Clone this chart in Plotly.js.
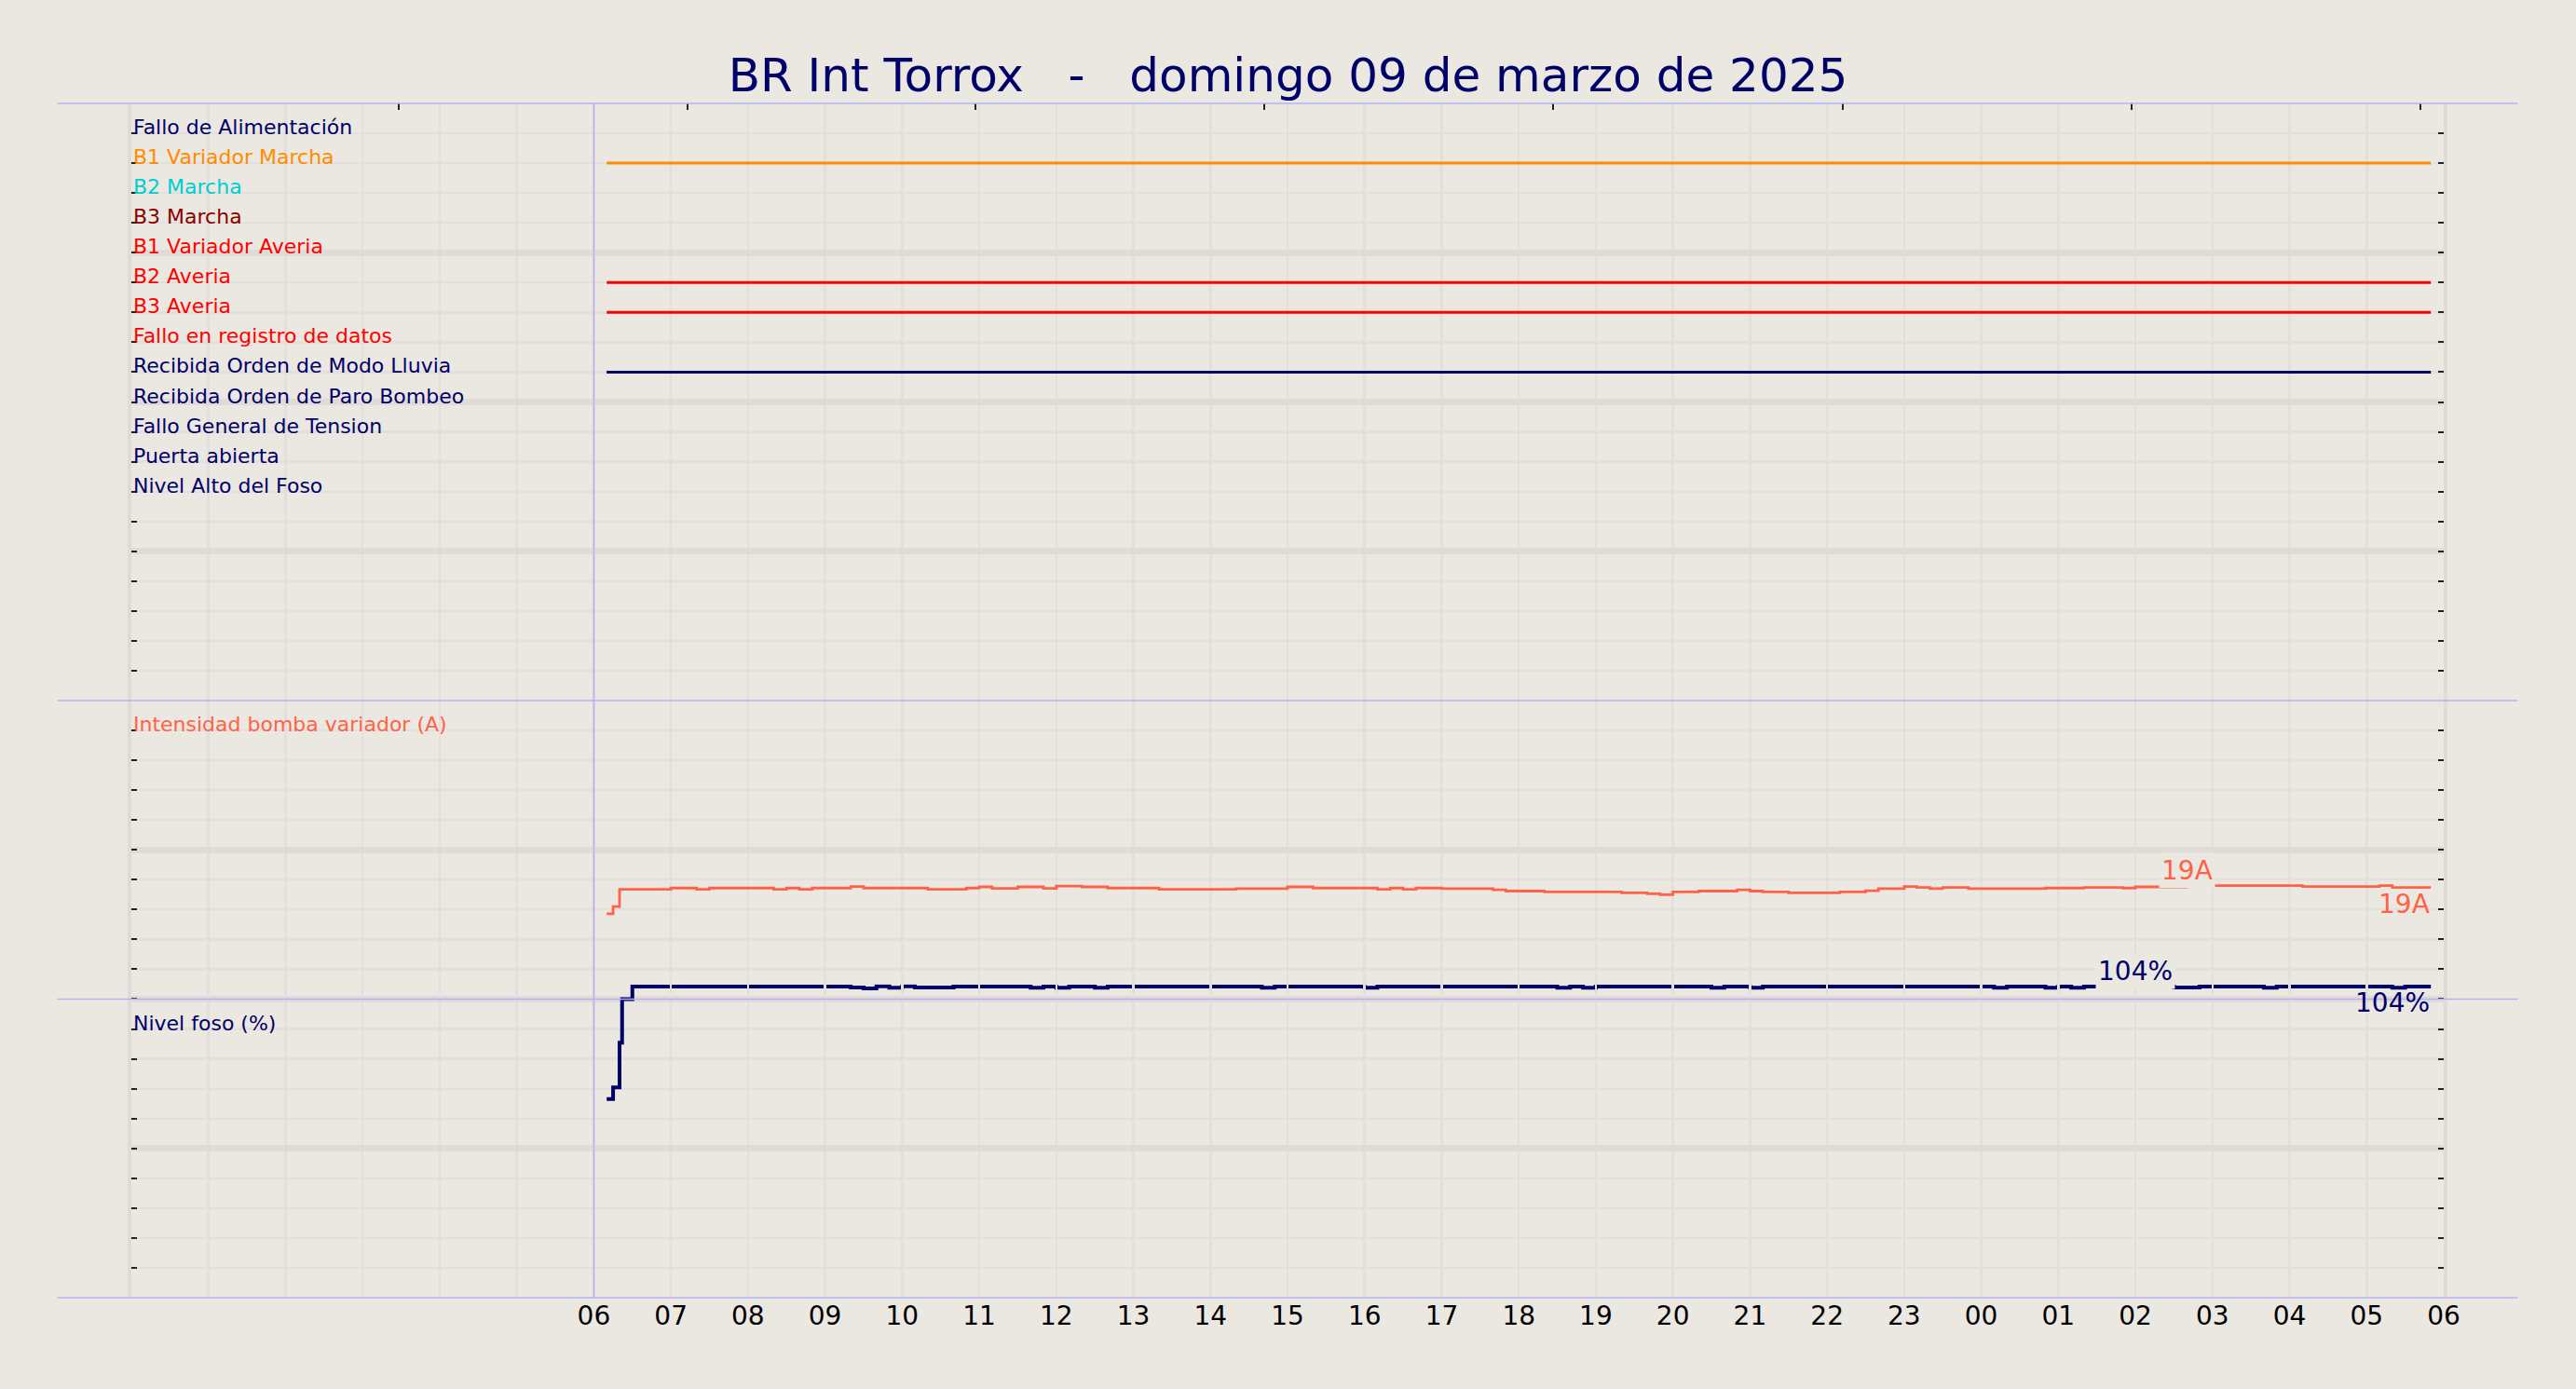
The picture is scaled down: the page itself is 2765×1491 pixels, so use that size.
<!DOCTYPE html>
<html>
<head>
<meta charset="utf-8">
<script src="https://cdn.plot.ly/plotly-3.0.1.min.js"></script>
<style>
  html, body { margin: 0; padding: 0; background: #ebe7e1; }
</style>
</head>
<body>
<div id="chart"></div>
<script>
const BG = "#ebe7e1";
const NAVY = "#00006a";
const FONT = "DejaVu Sans";

// digital signals, top to bottom
const signalNames = [
  "Fallo de Alimentación", "B1 Variador Marcha", "B2 Marcha", "B3 Marcha",
  "B1 Variador Averia", "B2 Averia", "B3 Averia", "Fallo en registro de datos",
  "Recibida Orden de Modo Lluvia", "Recibida Orden de Paro Bombeo",
  "Fallo General de Tension", "Puerta abierta", "Nivel Alto del Foso",
];
const signalColors = [
  NAVY, "#ff8c00", "#00ced1", "#8b0000", "#ff0000", "#ff0000", "#ff0000", "#ff0000",
  NAVY, NAVY, NAVY, NAVY, NAVY,
];
const signalRows = [19, 18, 17, 16, 15, 14, 13, 12, 11, 10, 9, 8, 7];
const signalOn = [
  [], [["06:10", "05:50"]], [], [], [], [["06:10", "05:50"]], [["06:10", "05:50"]], [],
  [["06:10", "05:50"]], [], [], [], [],
];

// Intensidad bomba variador (A)
const intensityTimes = [
  "06:10", "06:15", "06:20", "07:00", "07:20", "07:30", "08:20", "08:30", "08:40", "08:50",
  "09:20", "09:30", "10:20", "10:50", "11:00", "11:10", "11:30", "11:50", "12:00", "12:20",
  "12:40", "13:20", "14:20", "15:00", "15:20", "16:10", "16:20", "16:30", "16:40", "17:00",
  "17:40", "17:50", "18:20", "19:20", "19:40", "19:50", "20:00", "20:20", "20:50", "21:00",
  "21:10", "21:30", "22:10", "22:30", "22:40", "23:00", "23:10", "23:20", "23:30", "23:50",
  "00:50", "01:20", "01:50", "02:00", "02:20", "02:40", "03:00", "04:10", "05:10", "05:20",
  "05:50",
];
const intensityAmps = [
  14.3, 15.5, 18.4, 18.6, 18.4, 18.6, 18.4, 18.6, 18.4, 18.6,
  18.85, 18.6, 18.4, 18.6, 18.8, 18.55, 18.8, 18.55, 18.95, 18.8,
  18.6, 18.4, 18.5, 18.8, 18.6, 18.4, 18.6, 18.4, 18.6, 18.5,
  18.3, 18.1, 17.95, 17.8, 17.65, 17.5, 17.95, 18.1, 18.3, 18.1,
  17.95, 17.8, 17.95, 18.15, 18.5, 18.85, 18.7, 18.5, 18.7, 18.5,
  18.6, 18.7, 18.6, 18.8, 18.7, 19.1, 19.0, 18.85, 19.0, 18.7,
  18.7,
];

// Nivel foso (%)
const levelTimes = [
  "06:10", "06:15", "06:20", "06:22", "06:30", "09:20", "09:30", "09:40", "09:50", "10:00",
  "10:10", "10:40", "11:40", "11:50", "12:00", "12:10", "12:30", "12:40", "14:40", "14:50",
  "16:00", "16:10", "18:30", "18:40", "18:50", "19:00", "20:30", "20:40", "21:00", "21:10",
  "00:10", "00:20", "00:50", "01:00", "01:10", "01:20", "02:00", "02:10", "02:30", "02:50",
  "03:40", "03:50", "05:20", "05:30", "05:50",
];
const levelPct = [
  66.5, 70.4, 85.4, 100, 104.2, 103.9, 103.6, 104.3, 103.8, 104.3,
  103.9, 104.2, 103.8, 104.2, 103.8, 104.2, 103.8, 104.2, 103.8, 104.2,
  103.8, 104.2, 103.8, 104.2, 103.8, 104.2, 103.8, 104.2, 103.8, 104.2,
  103.8, 104.2, 103.8, 104.2, 103.8, 104.2, 104.4, 104.2, 103.9, 104.2,
  103.8, 104.2, 103.8, 104.2, 104.2,
];

const hourTicks = [
  "06", "07", "08", "09", "10", "11", "12", "13", "14", "15", "16", "17", "18",
  "19", "20", "21", "22", "23", "00", "01", "02", "03", "04", "05", "06",
];
const topTicks = [
  "2025-03-09 03:28", "2025-03-09 07:13", "2025-03-09 10:57", "2025-03-09 14:42",
  "2025-03-09 18:27", "2025-03-09 22:12", "2025-03-10 01:57", "2025-03-10 05:42",
];

const day = (hhmm) => (hhmm < "06:00" ? "2025-03-10 " : "2025-03-09 ") + hhmm;
const hourTickVals = hourTicks.map((h, i) => (i < 18 ? "2025-03-09 " : "2025-03-10 ") + h + ":00");
const xRange = ["2025-03-09 00:00", "2025-03-10 06:00"];

const gridMinor = "#e3dfdc";
const gridMajor = "#e0dbd9";
const blue = "#b3b3f3";

// traces
let traces = [];
signalNames.forEach((name, i) => {
  let xs = [], ys = [];
  signalOn[i].forEach(([a, b]) => {
    xs.push(day(a), day(b), null);
    ys.push(signalRows[i], signalRows[i], null);
  });
  traces.push({
    name, x: xs, y: ys, xaxis: "x3", yaxis: "y3", type: "scatter", mode: "lines",
    line: { color: signalColors[i], width: 3 }, hoverinfo: "skip",
  });
});
traces.push({
  name: "Intensidad", x: intensityTimes.map(day), y: intensityAmps,
  xaxis: "x2", yaxis: "y2", type: "scatter", mode: "lines",
  line: { color: "#ff6347", width: 2.8, shape: "hv" },
});
traces.push({
  name: "Nivel", x: levelTimes.map(day), y: levelPct,
  xaxis: "x", yaxis: "y", type: "scatter", mode: "lines",
  line: { color: NAVY, width: 4, shape: "hv" },
});

// annotations
let annotations = signalNames.map((name, i) => ({
  text: name, xref: "paper", x: 0, xanchor: "left", xshift: 0,
  yref: "y3", y: signalRows[i], yanchor: "bottom", yshift: -8,
  showarrow: false, font: { family: FONT, size: 22, color: signalColors[i] },
}));
annotations.push({
  text: "Intensidad bomba variador (A)", xref: "paper", x: 0, xanchor: "left", xshift: 0,
  yref: "y2", y: 45, yanchor: "bottom", yshift: -8,
  showarrow: false, font: { family: FONT, size: 22, color: "#ff6347" },
});
annotations.push({
  text: "Nivel foso (%)", xref: "paper", x: 0, xanchor: "left", xshift: 0,
  yref: "y", y: 90, yanchor: "bottom", yshift: -8,
  showarrow: false, font: { family: FONT, size: 22, color: NAVY },
});

const addValueLabels = (times, vals, unit, color, xref, yref) => {
  const iMax = vals.indexOf(Math.max(...vals));
  const last = vals.length - 1;
  annotations.push({
    text: Math.round(vals[iMax]) + unit, xref, yref, x: day(times[iMax]), y: vals[iMax],
    xanchor: "center", yanchor: "bottom", yshift: -4, showarrow: false,
    bgcolor: BG, borderpad: 2, font: { family: FONT, size: 28, color },
  });
  annotations.push({
    text: Math.round(vals[last]) + unit, xref, yref, x: day(times[last]), y: vals[last],
    xanchor: "right", yanchor: "top", yshift: 0, showarrow: false,
    borderpad: 0, font: { family: FONT, size: 28, color },
  });
};
addValueLabels(intensityTimes, intensityAmps, "A", "#ff6347", "x2", "y2");
addValueLabels(levelTimes, levelPct, "%", NAVY, "x", "y");

// separator lines
let shapes = [0, 0.25, 0.5, 1].map((yy) => ({
  type: "line", xref: "paper", yref: "paper", x0: -0.032, x1: 1.032, y0: yy, y1: yy,
  line: { color: blue, width: 1.6 }, layer: "above",
}));
shapes.push({
  type: "line", xref: "x", yref: "paper", x0: "2025-03-09 06:00", x1: "2025-03-09 06:00",
  y0: 0, y1: 1, line: { color: blue, width: 1.6 }, layer: "above",
});

const yAxis = (domain, range, major, minor, anchor) => ({
  domain, range, anchor, fixedrange: true, showticklabels: false, zeroline: false,
  tickmode: "linear", tick0: 0, dtick: major,
  ticks: "inside", ticklen: 6, tickwidth: 2, tickcolor: "#222",
  showgrid: true, gridcolor: gridMajor, gridwidth: 7,
  showline: true, linecolor: gridMajor, linewidth: 4, mirror: "ticks",
  minor: {
    tickmode: "linear", tick0: 0, dtick: minor, ticks: "inside", ticklen: 6,
    tickwidth: 2, tickcolor: "#222", showgrid: true, gridcolor: gridMinor, gridwidth: 2.3,
  },
});

const xMinor = {
  tickmode: "linear", tick0: "2025-03-09 00:00", dtick: 3600000, ticks: "",
  showgrid: true, gridcolor: gridMinor, gridwidth: 2.5,
};

let layout = {
  autosize: false, width: 2765, height: 1491,
  margin: { l: 141, r: 142, t: 111, b: 98, pad: 0 },
  paper_bgcolor: BG, plot_bgcolor: "rgba(0,0,0,0)",
  showlegend: false, hovermode: false,
  font: { family: FONT, color: "#000" },
  title: {
    text: "BR Int Torrox\u00a0\u00a0\u00a0-\u00a0\u00a0\u00a0domingo 09 de marzo de 2025",
    x: 0.5, xanchor: "center", yref: "container", y: 1 - 80 / 1491, yanchor: "middle",
    font: { family: FONT, size: 50, color: NAVY },
  },
  xaxis: {
    type: "date", range: xRange, anchor: "y", fixedrange: true, zeroline: false, showline: false,
    tickmode: "array", tickvals: hourTickVals, ticktext: hourTicks, ticks: "",
    tickfont: { family: FONT, size: 28, color: "#000" },
    showgrid: true, gridcolor: gridMinor, gridwidth: 2.5, minor: xMinor,
  },
  xaxis2: {
    type: "date", range: xRange, anchor: "y2", matches: "x", fixedrange: true,
    zeroline: false, showline: false, showticklabels: false, ticks: "",
    tickmode: "array", tickvals: hourTickVals,
    showgrid: true, gridcolor: gridMinor, gridwidth: 2.5, minor: xMinor,
  },
  xaxis3: {
    type: "date", range: xRange, anchor: "y3", matches: "x", side: "top", fixedrange: true,
    zeroline: false, showline: false, showticklabels: false,
    tickmode: "array", tickvals: topTicks, ticks: "inside", ticklen: 7, tickwidth: 2, tickcolor: "#222",
    showgrid: false, minor: xMinor,
  },
  yaxis: yAxis([0, 0.2625], [0, 105], 50, 10, "x"),
  yaxis2: yAxis([0.25, 0.5], [0, 50], 25, 5, "x2"),
  yaxis3: yAxis([0.5, 1], [0, 20], 5, 1, "x3"),
  annotations, shapes,
};

Plotly.newPlot("chart", traces, layout, { responsive: false, displayModeBar: false, staticPlot: true });
</script>
</body>
</html>
